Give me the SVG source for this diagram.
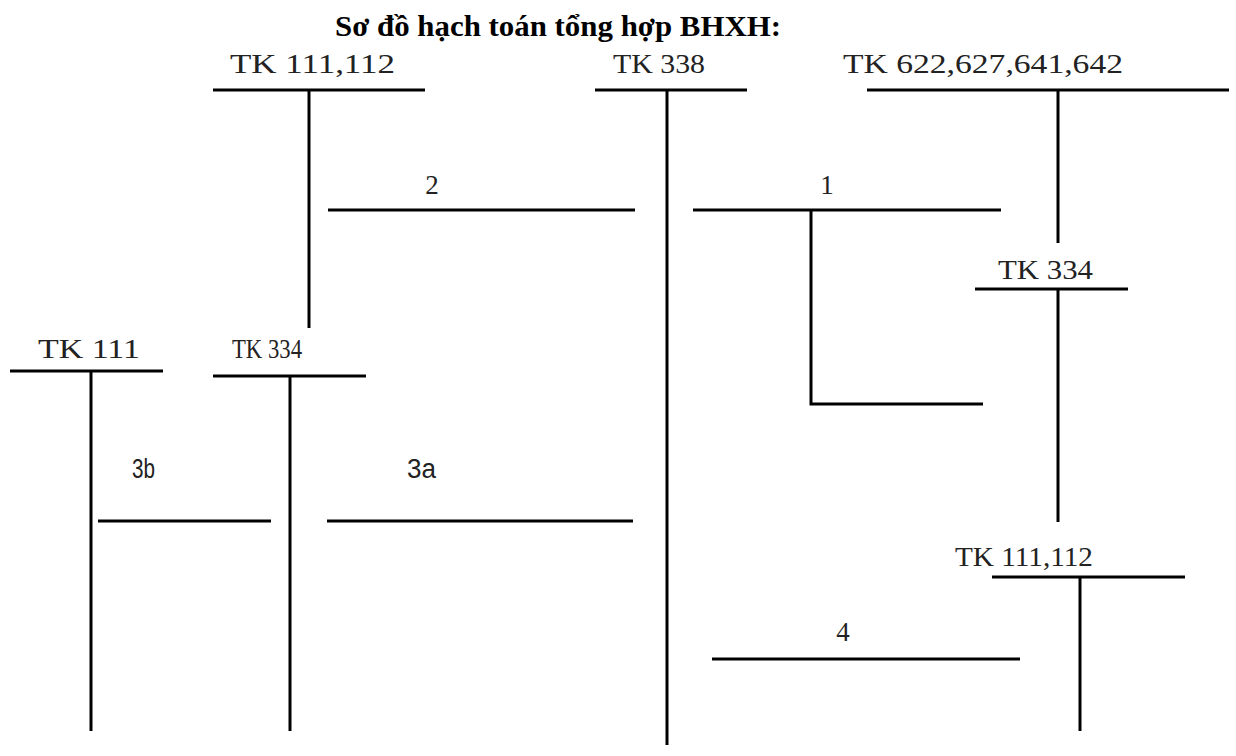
<svg xmlns="http://www.w3.org/2000/svg" width="1236" height="756" viewBox="0 0 1236 756">
<style>
.ln{stroke:#000;stroke-width:3;fill:none}
.tk{font-family:"Liberation Serif","DejaVu Serif",serif;font-size:27px;fill:#222}
.sm{font-family:"Liberation Sans","DejaVu Sans",sans-serif;font-size:27px;fill:#222}
.title{font-family:"Liberation Serif","Times New Roman",serif;font-size:29px;font-weight:bold;fill:#000}
</style>
<rect width="1236" height="756" fill="#fff"/>
<text class="title" x="335" y="36" textLength="446" lengthAdjust="spacingAndGlyphs">Sơ đồ hạch toán tổng hợp BHXH:</text>
<g id="tk111112-top">
<text class="tk" x="230" y="73" textLength="165" lengthAdjust="spacingAndGlyphs">TK 111,112</text>
<line class="ln" x1="213" y1="90" x2="425" y2="90"/>
<line class="ln" x1="309" y1="90" x2="309" y2="328"/>
</g>
<g id="tk338">
<text class="tk" x="613" y="73" textLength="92" lengthAdjust="spacingAndGlyphs">TK 338</text>
<line class="ln" x1="595" y1="90" x2="747" y2="90"/>
<line class="ln" x1="667" y1="90" x2="667" y2="745"/>
</g>
<g id="tk622">
<text class="tk" x="843" y="73" textLength="280" lengthAdjust="spacingAndGlyphs">TK 622,627,641,642</text>
<line class="ln" x1="867" y1="90" x2="1229" y2="90"/>
<line class="ln" x1="1058" y1="90" x2="1058" y2="243"/>
</g>
<g id="tk334-right">
<text class="tk" x="998" y="279" textLength="95" lengthAdjust="spacingAndGlyphs">TK 334</text>
<line class="ln" x1="975" y1="289" x2="1128" y2="289"/>
<line class="ln" x1="1058" y1="289" x2="1058" y2="522"/>
</g>
<g id="tk111-left">
<text class="tk" x="38" y="358" textLength="102" lengthAdjust="spacingAndGlyphs">TK 111</text>
<line class="ln" x1="10" y1="371" x2="163" y2="371"/>
<line class="ln" x1="91" y1="371" x2="91" y2="731"/>
</g>
<g id="tk334-left">
<text class="tk" x="232" y="358" textLength="70" lengthAdjust="spacingAndGlyphs">TK 334</text>
<line class="ln" x1="213" y1="376" x2="366" y2="376"/>
<line class="ln" x1="290" y1="376" x2="290" y2="731"/>
</g>
<g id="tk111112-bottom">
<text class="tk" x="955" y="566" textLength="138" lengthAdjust="spacingAndGlyphs">TK 111,112</text>
<line class="ln" x1="992" y1="577" x2="1185" y2="577"/>
<line class="ln" x1="1080" y1="577" x2="1080" y2="731"/>
</g>
<g id="connectors">
<line class="ln" x1="328" y1="210" x2="635" y2="210"/>
<text class="tk" x="432" y="194" text-anchor="middle">2</text>
<line class="ln" x1="693" y1="210" x2="1001" y2="210"/>
<text class="tk" x="827" y="194" text-anchor="middle">1</text>
<polyline class="ln" points="811,210 811,404 983,404"/>
<line class="ln" x1="98" y1="521" x2="271" y2="521"/>
<text class="sm" x="132" y="478" textLength="23" lengthAdjust="spacingAndGlyphs">3b</text>
<line class="ln" x1="327" y1="521" x2="633" y2="521"/>
<text class="sm" x="407" y="478" textLength="29" lengthAdjust="spacingAndGlyphs">3a</text>
<line class="ln" x1="712" y1="659" x2="1020" y2="659"/>
<text class="tk" x="843" y="641" text-anchor="middle">4</text>
</g>
</svg>
